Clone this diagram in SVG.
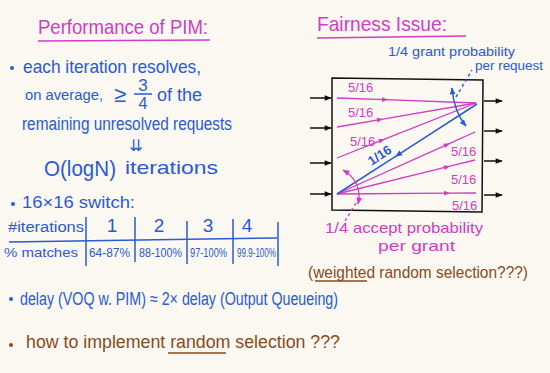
<svg xmlns="http://www.w3.org/2000/svg" width="550" height="373" viewBox="0 0 550 373">
<defs>
<style>
text{font-family:"Liberation Sans","DejaVu Sans",sans-serif}
.b{fill:#2a5ad6}
.m{fill:#d23cc4}
.br{fill:#8a4a1c}
.k{fill:#111}
.bl{stroke:#2a5ad6;fill:none;stroke-width:1.5}
.ml{stroke:#d23cc4;fill:none;stroke-width:1.3}
.kl{stroke:#111;fill:none;stroke-width:1.5}
.brl{stroke:#8a4a1c;fill:none;stroke-width:1.4}
</style>
<marker id="ak" viewBox="0 0 10 10" refX="9" refY="5" markerWidth="8" markerHeight="7" markerUnits="userSpaceOnUse" orient="auto"><path d="M0,1 L10,5 L0,9 z" fill="#111"/></marker>
<marker id="am" viewBox="0 0 10 10" refX="5" refY="5" markerWidth="9" markerHeight="6" markerUnits="userSpaceOnUse" orient="auto"><path d="M0,1 L10,5 L0,9 z" fill="#d23cc4"/></marker>
<marker id="ab" viewBox="0 0 10 10" refX="5" refY="5" markerWidth="9" markerHeight="7" markerUnits="userSpaceOnUse" orient="auto"><path d="M0,1 L10,5 L0,9 z" fill="#2a5ad6"/></marker>
<marker id="abe" viewBox="0 0 10 10" refX="9" refY="5" markerWidth="8" markerHeight="7" markerUnits="userSpaceOnUse" orient="auto-start-reverse"><path d="M0,1 L10,5 L0,9 z" fill="#2a5ad6"/></marker>
<marker id="ame" viewBox="0 0 10 10" refX="9" refY="5" markerWidth="8" markerHeight="7" markerUnits="userSpaceOnUse" orient="auto-start-reverse"><path d="M0,1 L10,5 L0,9 z" fill="#d23cc4"/></marker>
</defs>
<rect width="550" height="373" fill="#faf8f1"/>

<g id="title-left">
<text class="m" x="38" y="34" font-size="21" textLength="170" lengthAdjust="spacingAndGlyphs">Performance of PIM:</text>
<path class="ml" d="M38,41 L210,40" stroke-width="1.6"/>
</g>

<g id="bullet-iteration">
<circle class="b" cx="12" cy="68" r="2"/>
<text class="b" x="23" y="73" font-size="19" textLength="178" lengthAdjust="spacingAndGlyphs">each iteration resolves,</text>
<text class="b" x="25" y="100" font-size="14" textLength="78" lengthAdjust="spacingAndGlyphs">on average,</text>
<text class="b" x="114" y="102" font-size="22">≥</text>
<text class="b" x="143" y="91" font-size="17" text-anchor="middle">3</text>
<path class="bl" d="M134,94 L152,94"/>
<text class="b" x="143" y="109" font-size="16" text-anchor="middle">4</text>
<text class="b" x="157" y="101" font-size="18" textLength="45" lengthAdjust="spacingAndGlyphs">of the</text>
<text class="b" x="22" y="130" font-size="18" textLength="210" lengthAdjust="spacingAndGlyphs">remaining unresolved requests</text>
<text class="b" x="136" y="151" font-size="16" text-anchor="middle">⇊</text>
<text class="b" x="44" y="176" font-size="22" textLength="72" lengthAdjust="spacingAndGlyphs">O(logN)</text>
<text class="b" x="125" y="174" font-size="19" textLength="93" lengthAdjust="spacingAndGlyphs">iterations</text>
</g>

<g id="bullet-switch">
<circle class="b" cx="13" cy="204" r="2"/>
<text class="b" x="22" y="208" font-size="17" textLength="113" lengthAdjust="spacingAndGlyphs">16×16 switch:</text>
</g>

<g id="table">
<text class="b" x="8" y="232" font-size="14" textLength="76" lengthAdjust="spacingAndGlyphs">#iterations</text>
<text class="b" x="112" y="232" font-size="19" text-anchor="middle">1</text>
<text class="b" x="159" y="232" font-size="19" text-anchor="middle">2</text>
<text class="b" x="208" y="232" font-size="19" text-anchor="middle">3</text>
<text class="b" x="247" y="232" font-size="19" text-anchor="middle">4</text>
<text class="b" x="4" y="257" font-size="13" textLength="74" lengthAdjust="spacingAndGlyphs">% matches</text>
<text class="b" x="89" y="257" font-size="13" textLength="41" lengthAdjust="spacingAndGlyphs">64-87%</text>
<text class="b" x="139" y="257" font-size="13" textLength="43" lengthAdjust="spacingAndGlyphs">88-100%</text>
<text class="b" x="190" y="257" font-size="13" textLength="37" lengthAdjust="spacingAndGlyphs">97-100%</text>
<text class="b" x="237" y="257" font-size="12" textLength="39" lengthAdjust="spacingAndGlyphs">99.9-100%</text>
<path class="bl" d="M9,242 L277,238"/>
<path class="bl" d="M86,217 L86,266 M135,217 L135,262 M187,221 L187,264 M233,219 L233,264 M278,222 L278,266"/>
</g>

<g id="bullet-delay">
<circle class="b" cx="11" cy="299" r="2"/>
<text class="b" x="20" y="305" font-size="18" textLength="318" lengthAdjust="spacingAndGlyphs">delay (VOQ w. PIM) ≈ 2× delay (Output Queueing)</text>
</g>

<g id="bullet-random">
<circle class="br" cx="11" cy="345" r="2"/>
<text class="br" x="26" y="348" font-size="18" textLength="314" lengthAdjust="spacingAndGlyphs">how to implement random selection ???</text>
<path class="brl" d="M168,353 L226,353"/>
</g>

<g id="title-right">
<text class="m" x="317" y="31" font-size="21" textLength="130" lengthAdjust="spacingAndGlyphs">Fairness Issue:</text>
<path class="ml" d="M317,38 L466,36" stroke-width="1.6"/>
</g>

<g id="switch-box">
<path class="kl" d="M332,78 L483,80 L482,212 L332,210 Z" stroke-width="2"/>
</g>

<g id="connectors">
<path class="kl" d="M310,98 L331,98" marker-end="url(#ak)"/>
<path class="kl" d="M310,128 L331,128" marker-end="url(#ak)"/>
<path class="kl" d="M310,163 L331,163" marker-end="url(#ak)"/>
<path class="kl" d="M310,194 L331,194" marker-end="url(#ak)"/>
<path class="kl" d="M484,101 L502,101" marker-end="url(#ak)"/>
<path class="kl" d="M484,131 L502,131" marker-end="url(#ak)"/>
<path class="kl" d="M484,161 L502,161" marker-end="url(#ak)"/>
<path class="kl" d="M484,195 L502,195" marker-end="url(#ak)"/>

<path class="ml" d="M337,98 L385,99.7 L476,103" marker-mid="url(#am)"/>
<path class="ml" d="M337,127 L380,119.6 L476,103" marker-mid="url(#am)"/>
<path class="ml" d="M337,158 L382,140.2 L476,103" marker-mid="url(#am)"/>
<path class="ml" d="M337,194 L447,144.6 L475,132" marker-mid="url(#am)"/>
<path class="ml" d="M337,194 L447,166.9 L475,160" marker-mid="url(#am)"/>
<path class="ml" d="M337,194 L447,193.2 L476,193" marker-mid="url(#am)"/>
<path class="bl" d="M477,104 L398,154.8 L337,194" marker-mid="url(#ab)"/>

<path class="bl" d="M452,88 Q454,112 466,126" marker-start="url(#abe)" marker-end="url(#abe)" stroke-width="1.3"/>
<path class="bl" d="M456,97 L472,70" stroke-dasharray="3,3" stroke-width="1.1"/>
<path class="ml" d="M343,170 Q363,182 358,204" marker-start="url(#ame)" marker-end="url(#ame)"/>
<path class="ml" d="M356,203 L345,221" stroke-dasharray="3,3" stroke-width="1.1"/>
</g>

<g id="labels">
<text class="m" x="348" y="92" font-size="13">5/16</text>
<text class="m" x="348" y="117" font-size="13">5/16</text>
<text class="m" x="350" y="146" font-size="13">5/16</text>
<text class="m" x="451" y="156" font-size="13">5/16</text>
<text class="m" x="451" y="184" font-size="13">5/16</text>
<text class="m" x="452" y="210" font-size="13">5/16</text>
<text class="b" x="0" y="0" font-size="13" font-weight="bold" text-anchor="middle" transform="translate(382,159) rotate(-33)">1/16</text>
<text class="b" x="388" y="56" font-size="13" textLength="127" lengthAdjust="spacingAndGlyphs">1/4 grant probability</text>
<text class="b" x="475" y="70" font-size="12" textLength="68" lengthAdjust="spacingAndGlyphs">per request</text>
<text class="m" x="325" y="233" font-size="15" textLength="158" lengthAdjust="spacingAndGlyphs">1/4 accept probability</text>
<text class="m" x="378" y="251" font-size="15" textLength="77" lengthAdjust="spacingAndGlyphs">per grant</text>
<text class="br" x="308" y="278" font-size="17" textLength="220" lengthAdjust="spacingAndGlyphs">(weighted random selection???)</text>
<path class="brl" d="M315,281 L367,281"/>
</g>
</svg>
